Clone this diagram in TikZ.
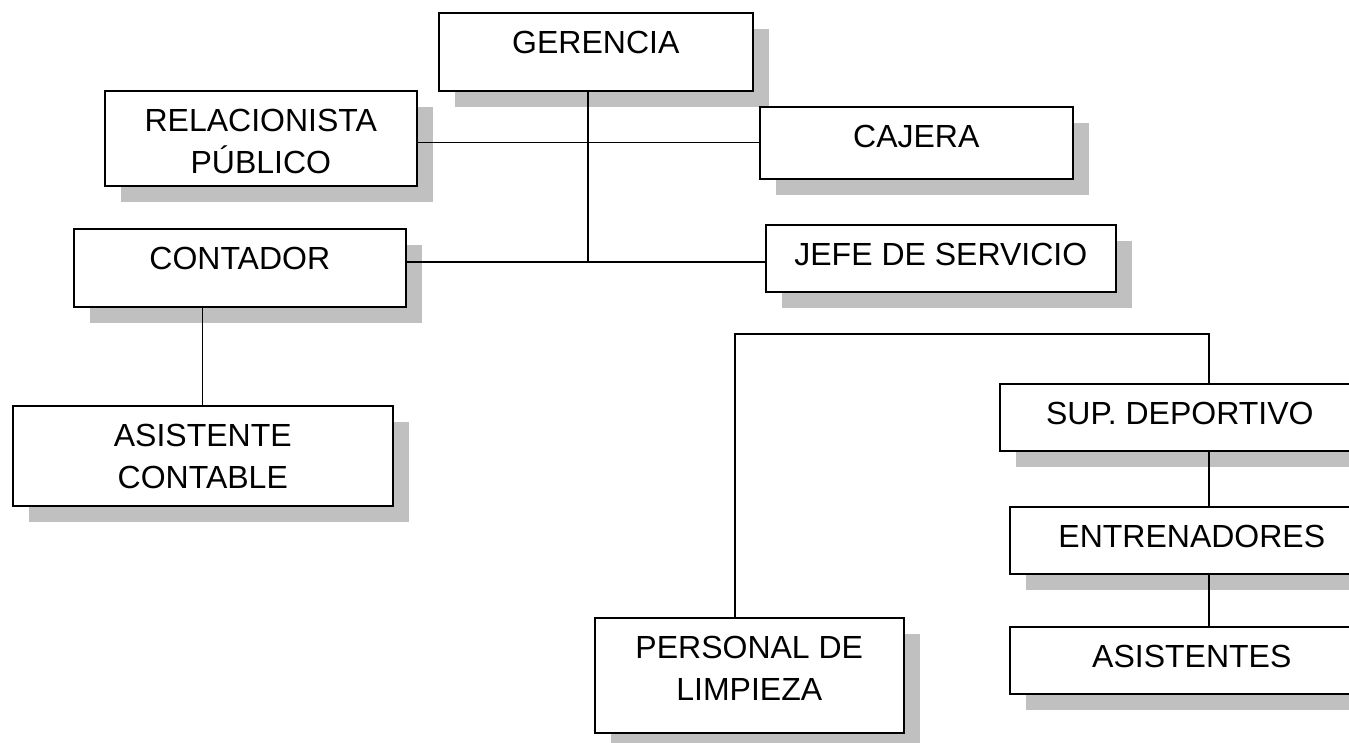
\documentclass[tikz,border=0pt]{standalone}
\usepackage{fontspec}
\setmainfont{Liberation Sans}
\usetikzlibrary{shadows}

\definecolor{sombra}{RGB}{192,192,192}

\tikzset{
  puesto/.style={draw=black, fill=white, line width=1.6pt, inner sep=0pt,
    anchor=north west, font=\fontsize{32}{42}\selectfont,
    drop shadow={shadow xshift=16pt, shadow yshift=-16pt, fill=sombra, opacity=1}},
  linea/.style={black, line width=1.3pt}
}

\begin{document}
\begin{tikzpicture}[x=1pt, y=-1pt]
  \path[use as bounding box, clip] (0,0) rectangle (1349,742);

  % cajas del organigrama
  \foreach \nombre/\x/\y/\w/\h/\texto in {
      ger/438/12/314/78/GERENCIA,
      rel/104/90/312/95/{RELACIONISTA\\PÚBLICO},
      caj/759/106/313/72/CAJERA,
      con/73/228/332/78/CONTADOR,
      jef/765/224/350/67/JEFE DE SERVICIO,
      asc/12/405/380/100/{ASISTENTE\\CONTABLE},
      sup/999/383/360/67/SUP. DEPORTIVO,
      ent/1009/506/364/67/ENTRENADORES,
      ast/1009/626/364/67/ASISTENTES,
      lim/594/617/309/115/{PERSONAL DE\\LIMPIEZA}} {
    \node[puesto] (\nombre) at (\x, \y)
      {\parbox[c][\h pt][t]{\w pt}{\centering\rule{0pt}{41pt}\texto}};
  }

  \coordinate (nudo) at (588, 262);
  \coordinate (barra) at (735, 334);
  \coordinate (eje) at (1209, 334);

  % lineas
  \draw[linea] (ger.south -| nudo) -- (nudo);
  \draw[linea] (rel.east |- caj.west) -- (caj.west);
  \draw[linea] (con.east |- nudo) -- (jef.west |- nudo);
  \draw[linea] (asc.north |- con.south) -- (asc.north);
  \draw[linea] (lim.north -| barra) -- (barra) -| (sup.north -| eje);
  \draw[linea] (sup.south -| eje) -- (ent.north -| eje);
  \draw[linea] (ent.south -| eje) -- (ast.north -| eje);
\end{tikzpicture}
\end{document}
